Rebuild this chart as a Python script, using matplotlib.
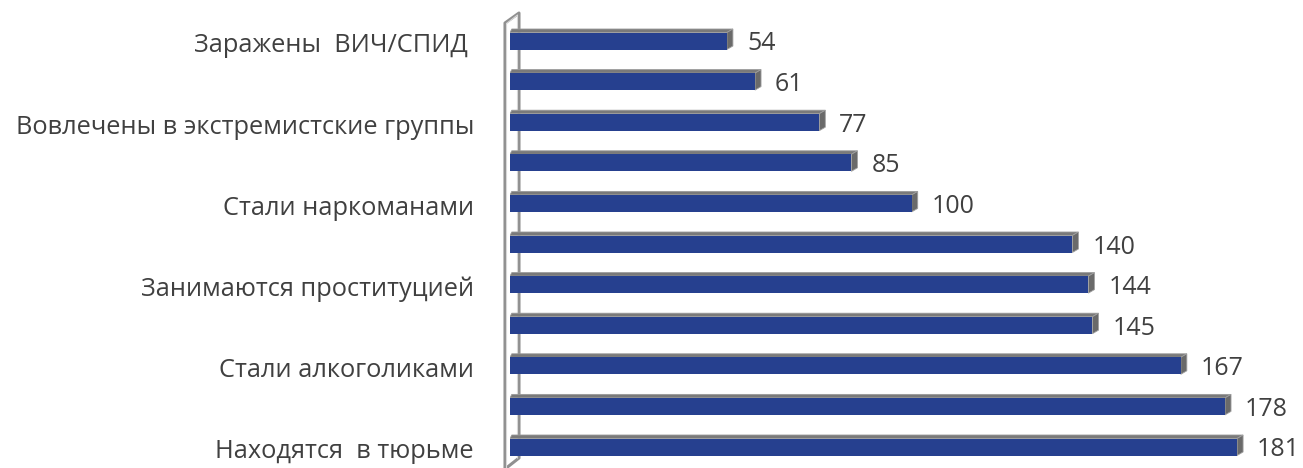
import matplotlib
matplotlib.use("Agg")
import matplotlib.pyplot as plt
from matplotlib.patches import Polygon
from matplotlib.transforms import ScaledTranslation
from matplotlib.lines import Line2D

categories = ["Заражены  ВИЧ/СПИД ", "", "Вовлечены в экстремистские группы", "",
              "Стали наркоманами", "", "Занимаются проституцией", "",
              "Стали алкоголиками", "", "Находятся  в тюрьме"]
values = [54, 61, 77, 85, 100, 140, 144, 145, 167, 178, 181]

W, H, DPI = 1303, 468, 100
plt.rcParams['font.family'] = ['Open Sans', 'DejaVu Sans']

fig = plt.figure(figsize=(W / DPI, H / DPI), dpi=DPI)
ax_left_px = 510
ax = fig.add_axes([ax_left_px / W, 0, (W - ax_left_px) / W, 1])
px_per_unit_x = 4.017
xmax = (W - ax_left_px) / px_per_unit_x
spacing_px = 40.6
ax.set_xlim(0, xmax)
ax.set_ylim(len(values) - 1 + (H - 41 - spacing_px * 10) / spacing_px, -41 / spacing_px)
ax.axis('off')

bar_h = 17 / spacing_px
blue = '#26408f'
text_col = '#404040'
ypos = list(range(len(values)))

wall_col = '#909090'
def fig_px_line(xs, ys, **kw):
    fx = [x / W for x in xs]
    fy = [1 - y / H for y in ys]
    fig.add_artist(Line2D(fx, fy, transform=fig.transFigure, **kw))

fig_px_line([505, 505, 519, 519, 505], [470, 23, 13, 458, 469], color=wall_col, lw=2.2, zorder=0)
fig_px_line([506.5, 506.5, 517.5, 517.5], [470, 23.5, 15, 458], color='#d8d8d8', lw=0.8, zorder=0)

bars = ax.barh(ypos, values, height=bar_h, color=blue, zorder=3)

ddx = 6 / px_per_unit_x
ddy = 3.5 / spacing_px
for y, v in zip(ypos, values):
    top = y - bar_h / 2
    bot = y + bar_h / 2
    topface = Polygon([(0, top), (v, top), (v + ddx, top - ddy), (ddx * 0.3, top - ddy)],
                      closed=True, facecolor='#7a7a7a', edgecolor='#9a9a9a', lw=0.6, zorder=2)
    ax.add_patch(topface)
    side = Polygon([(v, top), (v, bot), (v + ddx, bot - ddy), (v + ddx, top - ddy)],
                   closed=True, facecolor='#6a6a6a', edgecolor='#a0a0a0', lw=0.6, zorder=2)
    ax.add_patch(side)
    ax.text(v, y, str(v), transform=ax.transData + ScaledTranslation(20 / DPI, -3 / DPI, fig.dpi_scale_trans),
            ha='left', va='center', fontsize=18, color=text_col)

for y, lab in zip(ypos, categories):
    if lab:
        ax.text(0, y, lab, transform=ax.transData + ScaledTranslation(-36 / DPI, -5 / DPI, fig.dpi_scale_trans),
                ha='right', va='center', fontsize=18.3, color=text_col)

fig.savefig("out.png", dpi=DPI)
